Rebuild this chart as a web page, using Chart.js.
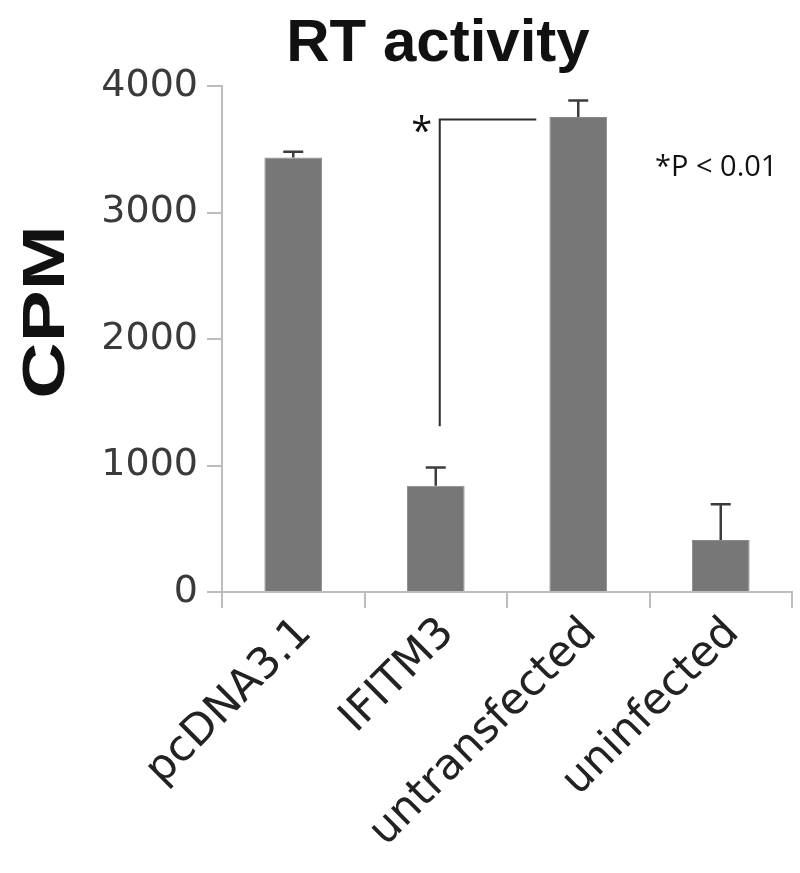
<!DOCTYPE html>
<html>
<head>
<meta charset="utf-8">
<script src="https://cdn.jsdelivr.net/npm/chart.js@4"></script>
<style>
  html, body { margin: 0; padding: 0; background: #fff; }
  #wrap { width: 800px; height: 873px; }
</style>
</head>
<body>
<div id="wrap"><canvas id="chart" width="800" height="873"></canvas></div>
<script>
// data
const categories = ['pcDNA3.1', 'IFITM3', 'untransfected', 'uninfected'];
const cpmValues = [3434, 840, 3754, 411];
const cpmErrors = [47, 145, 132, 282];
const yTicks = [0, 1000, 2000, 3000, 4000];
// significance bracket between IFITM3 and untransfected (CPM values)
const bracketFrom = 1;
const bracketTo = 2;
const bracketTop = 3735;
const bracketBottom = 1310;

const axisGray = '#bdbdbd';

// error bars (upper only) + annotations
const extrasPlugin = {
  id: 'extras',
  afterDatasetsDraw(chart) {
    const ctx = chart.ctx;
    const y = chart.scales.y;
    const x = chart.scales.x;
    const meta = chart.getDatasetMeta(0);

    ctx.save();
    ctx.strokeStyle = '#3c3c3c';
    ctx.lineWidth = 2.5;
    meta.data.forEach((bar, i) => {
      const top = y.getPixelForValue(cpmValues[i] + cpmErrors[i]);
      const base = y.getPixelForValue(cpmValues[i]);
      ctx.beginPath();
      ctx.moveTo(bar.x, base);
      ctx.lineTo(bar.x, top);
      ctx.moveTo(bar.x - 10, top);
      ctx.lineTo(bar.x + 10, top);
      ctx.stroke();
    });

    // bracket
    const bx1 = x.getPixelForValue(bracketFrom) + 4;
    const bx2 = x.getPixelForValue(bracketTo) - 42;
    const by1 = y.getPixelForValue(bracketTop);
    const by2 = y.getPixelForValue(bracketBottom);
    ctx.strokeStyle = '#2a2a2a';
    ctx.lineWidth = 2;
    ctx.beginPath();
    ctx.moveTo(bx2, by1);
    ctx.lineTo(bx1, by1);
    ctx.lineTo(bx1, by2);
    ctx.stroke();

    ctx.fillStyle = '#111';
    ctx.font = '38px "Open Sans"';
    ctx.textAlign = 'center';
    ctx.textBaseline = 'alphabetic';
    ctx.fillText('*', bx1 - 18, by1 + 24);

    ctx.textAlign = 'left';
    ctx.font = '29px "Open Sans"';
    ctx.fillText('*P < 0.01', 655, 176);

    // title
    ctx.textAlign = 'center';
    ctx.font = 'bold 60px "Liberation Sans"';
    ctx.fillText('RT activity', 438, 61);

    // y axis title, a bit stretched along its length like the original
    ctx.translate(64, 312);
    ctx.rotate(-Math.PI / 2);
    ctx.scale(1.3, 1);
    ctx.font = 'bold 60px "Liberation Sans"';
    ctx.textAlign = 'center';
    ctx.textBaseline = 'alphabetic';
    ctx.fillText('CPM', 0, 0);
    ctx.restore();
  }
};

new Chart(document.getElementById('chart'), {
  type: 'bar',
  data: {
    labels: categories,
    datasets: [{
      data: cpmValues,
      backgroundColor: '#777777',
      borderColor: '#8a8a8a',
      borderWidth: 1,
      categoryPercentage: 1,
      barPercentage: 0.405
    }]
  },
  options: {
    responsive: false,
    animation: false,
    layout: { padding: { top: 86, right: 8, bottom: 0, left: 0 } },
    plugins: {
      legend: { display: false },
      tooltip: { enabled: false }
    },
    scales: {
      x: {
        grid: {
          drawOnChartArea: false,
          offset: true,
          color: axisGray,
          lineWidth: 2,
          tickLength: 16
        },
        border: { color: axisGray, width: 2 },
        ticks: {
          color: '#222',
          font: { family: 'DejaVu Sans', size: 43 },
          maxRotation: 45,
          minRotation: 45,
          labelOffset: 12,
          padding: 0
        },
        afterFit(scale) { scale.height = 281; }
      },
      y: {
        min: 0,
        max: 4000,
        afterBuildTicks(scale) { scale.ticks = yTicks.map(v => ({ value: v })); },
        grid: {
          drawOnChartArea: false,
          color: axisGray,
          lineWidth: 2,
          tickLength: 15
        },
        border: { color: axisGray, width: 2 },
        ticks: {
          color: '#3a3a3a',
          font: { family: 'DejaVu Sans', size: 38 },
          padding: 9,
          callback: v => String(v)
        },
        afterFit(scale) { scale.width = 222; }
      }
    }
  },
  plugins: [extrasPlugin]
});
</script>
</body>
</html>
